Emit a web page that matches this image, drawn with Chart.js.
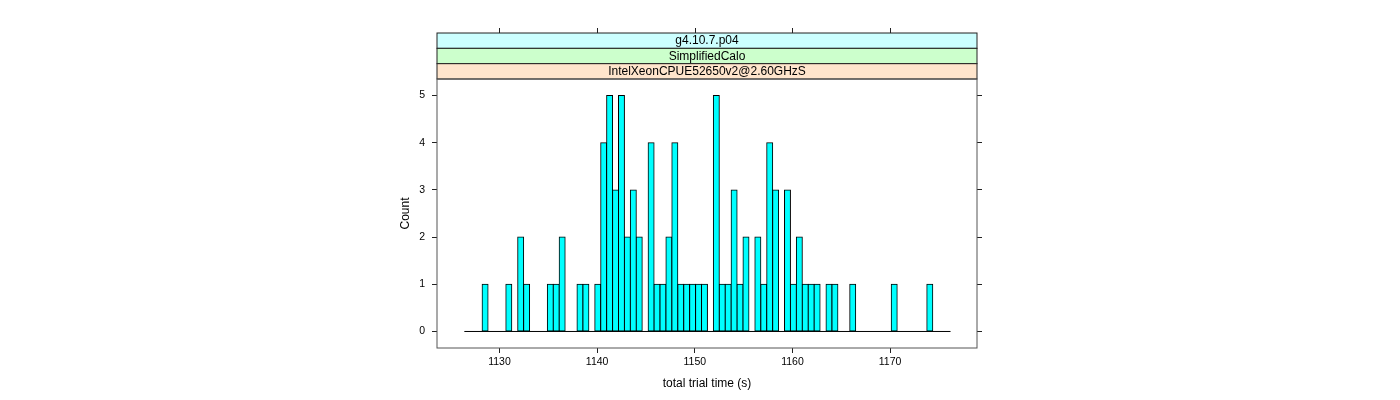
<!DOCTYPE html>
<html>
<head>
<meta charset="utf-8">
<script src="https://cdn.jsdelivr.net/npm/chart.js@4.4.1/dist/chart.umd.min.js"></script>
<style>
  html, body { margin: 0; padding: 0; background: #fff; }
  #wrap { width: 1400px; height: 400px; }
</style>
</head>
<body>
<div id="wrap"><canvas id="hist" width="1400" height="400"></canvas></div>
<script>
// histogram of total trial time: 82 equal bins
const binStart = 1126.40;
const binWidth = 0.6072;
const counts = [
  0, 0, 0, 1, 0, 0, 0, 1, 0, 2,
  1, 0, 0, 0, 1, 1, 2, 0, 0, 1,
  1, 0, 1, 4, 5, 3, 5, 2, 3, 2,
  0, 4, 1, 1, 2, 4, 1, 1, 1, 1,
  1, 0, 5, 1, 1, 3, 1, 2, 0, 2,
  1, 4, 3, 0, 3, 1, 2, 1, 1, 1,
  0, 1, 1, 0, 0, 1, 0, 0, 0, 0,
  0, 0, 1, 0, 0, 0, 0, 0, 1, 0,
  0, 0
];
const xTicks = [1130, 1140, 1150, 1160, 1170];
const yTicks = [0, 1, 2, 3, 4, 5];
const stripLabels = ['g4.10.7.p04', 'SimplifiedCalo', 'IntelXeonCPUE52650v2@2.60GHzS'];

const stripColors = ['#ccffff', '#ccffcc', '#ffe5cc'];
const family = "'Liberation Sans', Arial, Helvetica, sans-serif";
const binEnd = binStart + counts.length * binWidth;

// strips above the panel and the top tick marks, lattice style
const latticeFrame = {
  id: 'latticeFrame',
  afterDraw(chart) {
    const ctx = chart.ctx;
    const a = chart.chartArea;
    const xs = chart.scales.x;
    const stripH = 15.33;
    const top0 = a.top - stripLabels.length * stripH;
    ctx.save();
    ctx.lineWidth = 1;
    ctx.strokeStyle = '#222';
    stripLabels.forEach((lab, i) => {
      const y = top0 + i * stripH;
      ctx.fillStyle = stripColors[i];
      ctx.fillRect(a.left, y, a.width, stripH);
      ctx.strokeRect(a.left, y, a.width, stripH);
      ctx.fillStyle = '#000';
      ctx.font = '12px ' + family;
      ctx.textAlign = 'center';
      ctx.textBaseline = 'middle';
      ctx.fillText(lab, (a.left + a.right) / 2, y + stripH / 2 + 0.5);
    });
    // panel frame
    ctx.strokeStyle = '#555';
    ctx.strokeRect(a.left, a.top, a.width, a.height);
    // top ticks
    ctx.strokeStyle = '#222';
    ctx.beginPath();
    xTicks.forEach(v => {
      const px = Math.round(xs.getPixelForValue(v)) + 0.5;
      ctx.moveTo(px, top0);
      ctx.lineTo(px, top0 - 5);
    });
    ctx.stroke();
    ctx.restore();
  }
};

const tickGrid = { display: true, drawOnChartArea: false, drawTicks: true, tickLength: 5, color: '#222', lineWidth: 1, offset: false };

new Chart(document.getElementById('hist'), {
  type: 'bar',
  data: {
    datasets: [
      {
        type: 'line',
        data: [{ x: binStart, y: 0 }, { x: binEnd, y: 0 }],
        borderColor: '#000',
        borderWidth: 1,
        pointRadius: 0
      },
      {
        type: 'bar',
        data: counts.map((c, i) => ({ x: binStart + (i + 0.5) * binWidth, y: c })),
        backgroundColor: '#00ffff',
        borderColor: '#000',
        borderWidth: 1,
        borderSkipped: false,
        inflateAmount: 0.5,
        barPercentage: 1,
        categoryPercentage: 1
      }
    ]
  },
  options: {
    responsive: false,
    animation: false,
    devicePixelRatio: 1,
    layout: { padding: { left: 394, right: 0, top: 79, bottom: 0 } },
    plugins: { legend: { display: false }, tooltip: { enabled: false } },
    scales: {
      x: {
        type: 'linear',
        position: 'bottom',
        min: 1123.60,
        max: 1178.90,
        offset: false,
        afterBuildTicks: s => { s.ticks = xTicks.map(v => ({ value: v })); },
        afterFit: s => { s.height = 52; },
        grid: tickGrid,
        border: { display: false },
        ticks: { font: { family, size: 10.5 }, color: '#000', padding: 3, maxRotation: 0, autoSkip: false, callback: v => String(v) },
        title: { display: true, text: 'total trial time (s)', font: { family, size: 12 }, color: '#000', padding: { top: 4, bottom: 9 } }
      },
      y: {
        position: 'left',
        min: -0.35,
        max: 5.35,
        afterBuildTicks: s => { s.ticks = yTicks.map(v => ({ value: v })); },
        afterFit: s => { s.width = 43; },
        grid: tickGrid,
        border: { display: false },
        ticks: { font: { family, size: 10.5 }, color: '#000', padding: 7, callback: v => String(v) },
        title: { display: true, text: 'Count', font: { family, size: 12 }, color: '#000', padding: { top: 4, bottom: 4 } }
      },
      y2: {
        position: 'right',
        min: -0.35,
        max: 5.35,
        afterBuildTicks: s => { s.ticks = yTicks.map(v => ({ value: v })); },
        afterFit: s => { s.width = 423; },
        grid: tickGrid,
        border: { display: false },
        ticks: { display: false }
      }
    }
  },
  plugins: [latticeFrame]
});
</script>
</body>
</html>
